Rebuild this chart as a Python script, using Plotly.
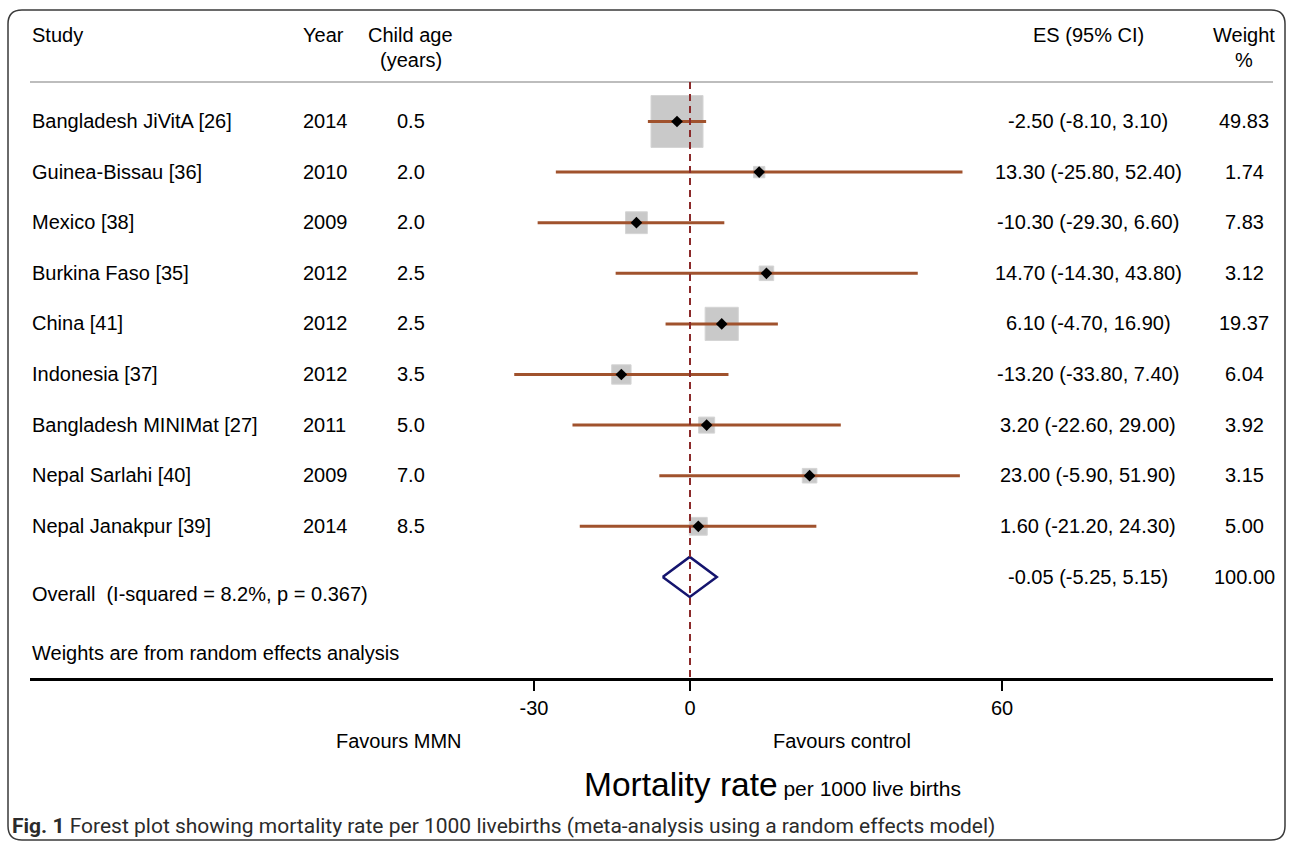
import math
import plotly.graph_objects as go

# ---- study data -------------------------------------------------------
studies = ["Bangladesh JiVitA [26]", "Guinea-Bissau [36]", "Mexico [38]",
           "Burkina Faso [35]", "China [41]", "Indonesia [37]",
           "Bangladesh MINIMat [27]", "Nepal Sarlahi [40]", "Nepal Janakpur [39]"]
years = ["2014", "2010", "2009", "2012", "2012", "2012", "2011", "2009", "2014"]
child_age = ["0.5", "2.0", "2.0", "2.5", "2.5", "3.5", "5.0", "7.0", "8.5"]
es = [-2.50, 13.30, -10.30, 14.70, 6.10, -13.20, 3.20, 23.00, 1.60]
ci_low = [-8.10, -25.80, -29.30, -14.30, -4.70, -33.80, -22.60, -5.90, -21.20]
ci_high = [3.10, 52.40, 6.60, 43.80, 16.90, 7.40, 29.00, 51.90, 24.30]
weights = [49.83, 1.74, 7.83, 3.12, 19.37, 6.04, 3.92, 3.15, 5.00]

overall_es, overall_low, overall_high, overall_weight = -0.05, -5.25, 5.15, 100.00
overall_label = "Overall  (I-squared = 8.2%, p = 0.367)"
x_ticks = [-30, 0, 60]

# ---- layout geometry (pixels) -----------------------------------------
W, H = 1293, 843
PL, PR, PT, PB = 30, 1273, 0, 678          # plot area in pixels
ZERO_PX, PX_PER_UNIT = 690, 5.2             # x scale
ROW0_PX, ROW_STEP = 121.5, 50.6             # row positions

x_range = [(PL - ZERO_PX) / PX_PER_UNIT, (PR - ZERO_PX) / PX_PER_UNIT]
y_range = [(PB - ROW0_PX) / ROW_STEP, (PT - ROW0_PX) / ROW_STEP]


def px_x(px):
    return (px - PL) / (PR - PL)


def px_y(py):
    return (PB - py) / (PB - PT)


def row_of(py):
    return (py - ROW0_PX) / ROW_STEP


FONT = "Liberation Sans, Arial, Helvetica, sans-serif"
FS = 20
rows = list(range(len(studies)))
overall_row = len(studies)

fig = go.Figure()

# weight boxes (area proportional to weight)
box_sizes = [2 + 50 * math.sqrt(w / weights[0]) for w in weights]
fig.add_trace(go.Scatter(
    x=es, y=rows, mode="markers",
    marker=dict(symbol="square", size=box_sizes, color="#b3b3b3",
                line=dict(color="#c4c4c4", width=1)),
    hoverinfo="skip", showlegend=False))

# confidence intervals
ci_x, ci_y = [], []
for lo, hi, r in zip(ci_low, ci_high, rows):
    ci_x += [lo, hi, None]
    ci_y += [r, r, None]
fig.add_trace(go.Scatter(
    x=ci_x, y=ci_y, mode="lines",
    line=dict(color="#a0522d", width=3),
    hoverinfo="skip", showlegend=False))

# point estimates
fig.add_trace(go.Scatter(
    x=es, y=rows, mode="markers",
    marker=dict(symbol="diamond", size=9, color="black"),
    hoverinfo="skip", showlegend=False))

# pooled estimate diamond
half_h = 20 / ROW_STEP
fig.add_trace(go.Scatter(
    x=[overall_low, overall_es, overall_high, overall_es, overall_low],
    y=[overall_row, overall_row - half_h, overall_row,
       overall_row + half_h, overall_row],
    mode="lines", line=dict(color="#14146e", width=2.5),
    hoverinfo="skip", showlegend=False))

shapes = []
# header rule
shapes.append(dict(type="line", xref="paper", yref="y", x0=0, x1=1,
                   y0=row_of(82), y1=row_of(82),
                   line=dict(color="#bdbdbd", width=2)))
# line of no effect
shapes.append(dict(type="line", xref="x", yref="y", x0=0, x1=0,
                   y0=row_of(82), y1=y_range[0],
                   line=dict(color="#8b2a2a", width=2, dash="7px,5px")))
# rounded frame around the figure
fl, ft, fr, fb, rad = 8, 10, 1285, 840, 14
path = (f"M {px_x(fl)},{px_y(ft + rad)} "
        f"Q {px_x(fl)},{px_y(ft)} {px_x(fl + rad)},{px_y(ft)} "
        f"L {px_x(fr - rad)},{px_y(ft)} "
        f"Q {px_x(fr)},{px_y(ft)} {px_x(fr)},{px_y(ft + rad)} "
        f"L {px_x(fr)},{px_y(fb - rad)} "
        f"Q {px_x(fr)},{px_y(fb)} {px_x(fr - rad)},{px_y(fb)} "
        f"L {px_x(fl + rad)},{px_y(fb)} "
        f"Q {px_x(fl)},{px_y(fb)} {px_x(fl)},{px_y(fb - rad)} Z")
shapes.append(dict(type="path", xref="paper", yref="paper", path=path,
                   line=dict(color="#3a3a3a", width=1.5)))

ann = []


def add_text(text, px, y, yref="y", anchor="left", size=FS, color="black",
             family=FONT, yshift=0):
    ann.append(dict(text=text, xref="paper", yref=yref, x=px_x(px), y=y,
                    xanchor=anchor, yanchor="middle", showarrow=False,
                    font=dict(family=family, size=size, color=color),
                    yshift=yshift))


# column headers
add_text("Study", 30, row_of(35))
add_text("Year", 301, row_of(35))
add_text("Child age", 411, row_of(35), anchor="center")
add_text("(years)", 411, row_of(60), anchor="center")
add_text("ES (95% CI)", 1088, row_of(35), anchor="center")
add_text("Weight", 1244, row_of(35), anchor="center")
add_text("%", 1244, row_of(60), anchor="center")

# study rows
for r, s, yr, age, e, lo, hi, w in zip(rows, studies, years, child_age,
                                        es, ci_low, ci_high, weights):
    add_text(s, 30, r, yshift=0.5)
    add_text(yr, 301, r, yshift=0.5)
    add_text(age, 411, r, anchor="center", yshift=0.5)
    add_text(f"{e:.2f} ({lo:.2f}, {hi:.2f})", 1088, r, anchor="center",
             yshift=0.5)
    add_text(f"{w:.2f}", 1244, r, anchor="center", yshift=0.5)

# pooled row
add_text(overall_label, 30, row_of(594))
add_text(f"{overall_es:.2f} ({overall_low:.2f}, {overall_high:.2f})", 1088,
         overall_row, anchor="center")
add_text(f"{overall_weight:.2f}", 1244, overall_row, anchor="center")
add_text("Weights are from random effects analysis", 30, row_of(653))

# below the axis
add_text("Favours MMN", 399, px_y(741), yref="paper", anchor="center")
add_text("Favours control", 842, px_y(741), yref="paper", anchor="center")
add_text("<span style='font-size:33.5px'>Mortality rate</span> per 1000 live births",
         772, px_y(784), yref="paper", anchor="center", size=21)
add_text("<b>Fig. 1</b> Forest plot showing mortality rate per 1000 livebirths "
         "(meta-analysis using a random effects model)",
         10, px_y(826), yref="paper", size=21, color="#2b2b2b",
         family="Roboto, sans-serif")

fig.update_layout(
    width=W, height=H,
    margin=dict(l=PL, r=W - PR, t=PT, b=H - PB),
    plot_bgcolor="white", paper_bgcolor="white",
    shapes=shapes, annotations=ann,
    xaxis=dict(range=x_range, tickvals=x_ticks,
               ticktext=[str(t) for t in x_ticks],
               showgrid=False, zeroline=False, showline=True,
               linecolor="black", linewidth=2.5, ticks="outside",
               ticklen=10, tickwidth=2, tickcolor="black",
               tickfont=dict(family=FONT, size=FS, color="black"),
               fixedrange=True),
    yaxis=dict(range=y_range, visible=False, fixedrange=True),
)

fig.write_html("out.html")
